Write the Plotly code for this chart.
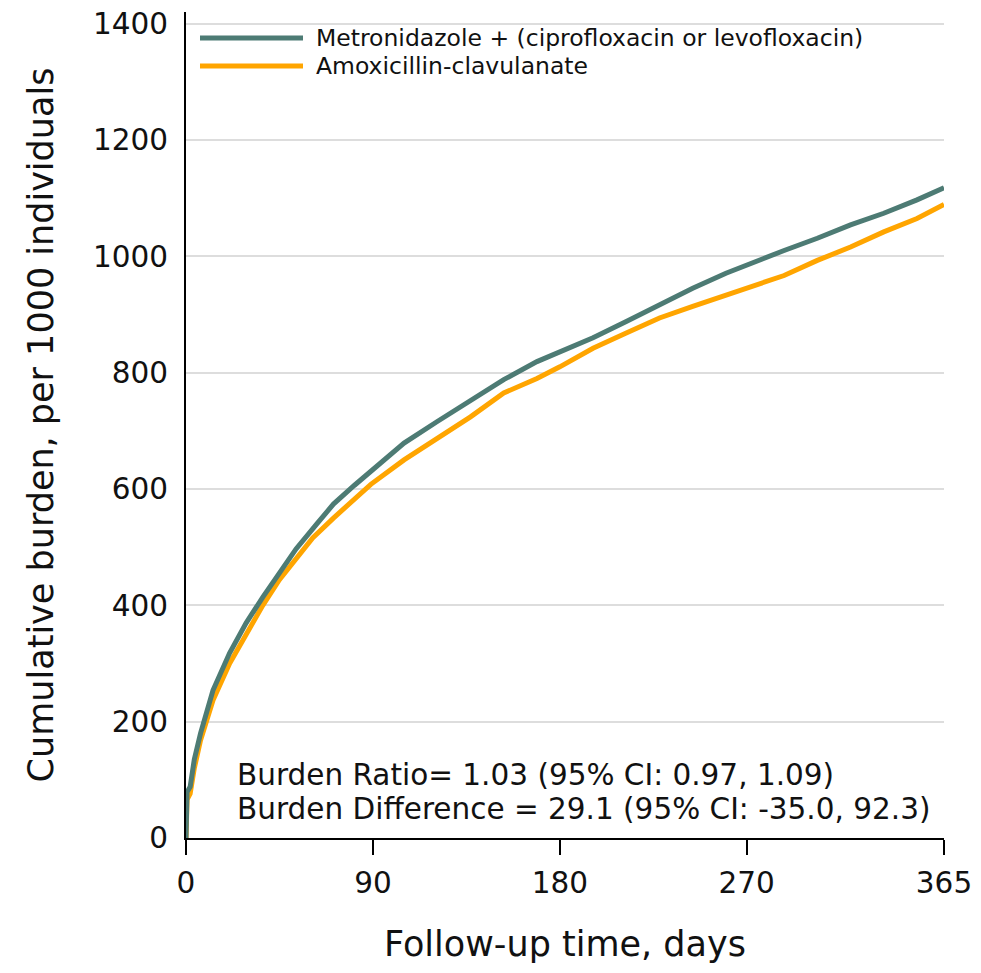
import plotly.graph_objects as go

# Data
days_metro = [0, 0.5, 2, 4, 7, 13, 21, 29, 37, 45, 53, 63, 71, 81, 90, 105, 121, 137, 153, 169, 180,
              196, 212, 228, 244, 260, 272, 288, 304, 320, 336, 352, 365]
burden_metro = [0, 79, 88, 135, 180, 254, 318, 370, 414, 456, 497, 540, 574, 606, 633, 679, 716, 753, 788, 819, 835,
                860, 888, 917, 945, 971, 988, 1010, 1031, 1054, 1074, 1097, 1118]

days_amox = [0, 0.5, 2, 4, 7, 13, 21, 29, 37, 45, 53, 61, 71, 81, 89, 105, 121, 137, 153, 169, 180,
             196, 212, 228, 244, 260, 272, 288, 304, 320, 336, 352, 365]
burden_amox = [0, 66, 76, 120, 168, 237, 300, 352, 400, 444, 481, 516, 550, 581, 608, 650, 687, 724, 765, 790, 810,
               842, 868, 894, 914, 934, 948, 967, 993, 1016, 1042, 1065, 1089]

series_names = ["Metronidazole + (ciprofloxacin or levofloxacin)", "Amoxicillin-clavulanate"]
series_colors = ["#4d7b74", "#ffa500"]

x_ticks = [0, 90, 180, 270, 365]
y_ticks = [0, 200, 400, 600, 800, 1000, 1200, 1400]

annotation_lines = ["Burden Ratio= 1.03 (95% CI: 0.97, 1.09)",
                    "Burden Difference = 29.1 (95% CI: -35.0, 92.3)"]

FONT = "DejaVu Sans"
TXT = "#111111"

fig = go.Figure()
fig.add_trace(go.Scatter(x=days_amox, y=burden_amox, mode="lines", name=series_names[1],
                         line=dict(color=series_colors[1], width=5), showlegend=False))
fig.add_trace(go.Scatter(x=days_metro, y=burden_metro, mode="lines", name=series_names[0],
                         line=dict(color=series_colors[0], width=5), showlegend=False))

# margins: plot area x 186..944, y 12..838
L, R, T, B = 186, 37, 12, 135
W, H = 981, 973
pw = W - L - R
ph = H - T - B

def px_to_paper_x(px):
    return (px - L) / pw

def px_to_paper_y(py):
    return (H - B - py) / ph

# manual legend
for py, i in [(38, 0), (66, 1)]:
    fig.add_shape(type="line", xref="paper", yref="paper",
                  x0=px_to_paper_x(200), x1=px_to_paper_x(303),
                  y0=px_to_paper_y(py), y1=px_to_paper_y(py),
                  line=dict(color=series_colors[i], width=5))
    fig.add_annotation(xref="paper", yref="paper", x=px_to_paper_x(314), y=px_to_paper_y(py),
                       text=series_names[i], showarrow=False, xanchor="left", yanchor="middle",
                       font=dict(family=FONT, size=23.5, color=TXT))

for py, txt in zip([775, 809], annotation_lines):
    fig.add_annotation(xref="paper", yref="paper", x=px_to_paper_x(235), y=px_to_paper_y(py),
                       text=txt, showarrow=False, xanchor="left", yanchor="middle",
                       font=dict(family=FONT, size=29.5, color=TXT))

fig.update_layout(
    width=W, height=H,
    margin=dict(l=L, r=R, t=T, b=B, pad=0),
    plot_bgcolor="white", paper_bgcolor="white",
    font=dict(family=FONT, color=TXT),
    xaxis=dict(range=[0, 365], tickvals=x_ticks, ticktext=[str(v) for v in x_ticks],
               showgrid=False, zeroline=False, showline=True, linecolor="black", linewidth=2,
               ticks="outside", ticklen=15, tickwidth=2, tickcolor="black",
               ticklabelstandoff=3, automargin=False,
               tickfont=dict(family=FONT, size=29.5, color=TXT),
               title=dict(text="Follow-up time, days", font=dict(family=FONT, size=35, color=TXT),
                          standoff=32)),
    yaxis=dict(range=[0, 1420], tickvals=y_ticks, ticktext=[str(v) for v in y_ticks],
               showgrid=True, gridcolor="#dddddd", gridwidth=1.5, zeroline=False,
               showline=True, linecolor="black", linewidth=2, ticks="",
               ticklabelstandoff=10, automargin=False,
               tickfont=dict(family=FONT, size=29.5, color=TXT),
               title=dict(text="Cumulative burden, per 1000 individuals",
                          font=dict(family=FONT, size=35, color=TXT), standoff=29)),
)

fig.write_html("out.html", config={"displayModeBar": False},
               post_script="document.body.style.margin='0';document.body.style.padding='0';")
